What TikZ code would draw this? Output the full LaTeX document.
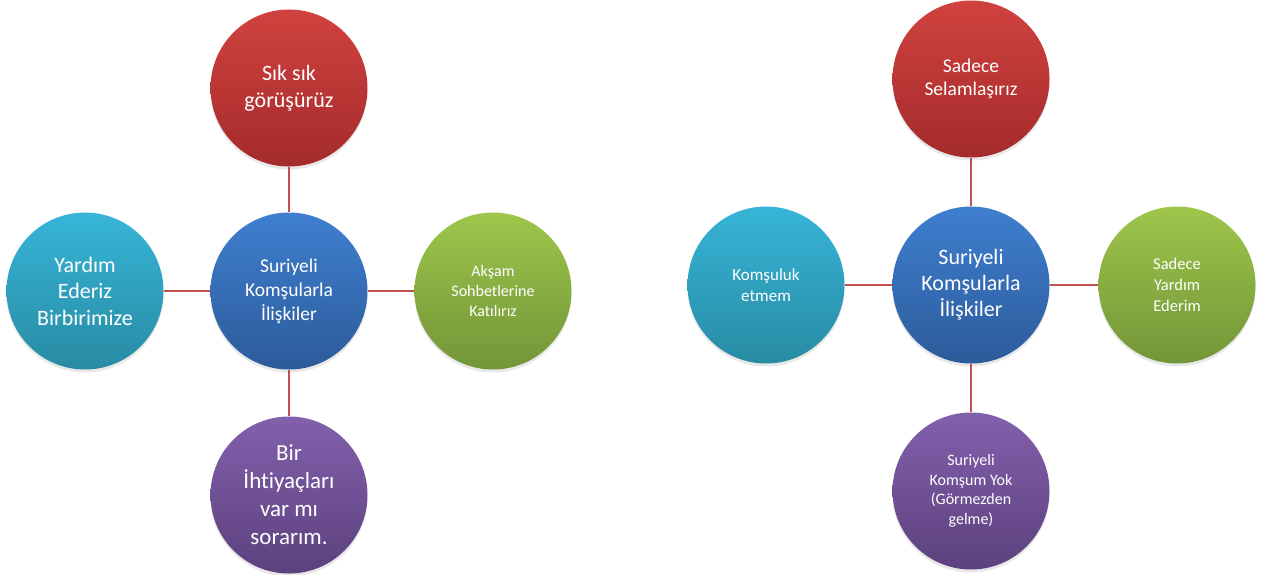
\documentclass[tikz,border=0pt]{standalone}
\usepackage{fontspec}
\setmainfont[Ligatures=NoCommon]{Carlito}
\usetikzlibrary{shadows}
\definecolor{redT}{HTML}{D0423F}
\definecolor{redB}{HTML}{A42B2B}
\definecolor{bluT}{HTML}{3F7FCF}
\definecolor{bluB}{HTML}{2C5B9B}
\definecolor{cyaT}{HTML}{37B5D8}
\definecolor{cyaB}{HTML}{288BA3}
\definecolor{grnT}{HTML}{9EC64B}
\definecolor{grnB}{HTML}{729538}
\definecolor{purT}{HTML}{8260AC}
\definecolor{purB}{HTML}{5D417E}
\definecolor{lineC}{HTML}{C0504D}
\tikzset{
  bub/.style={circle, minimum size=157pt, inner sep=0pt, text=white, align=center,
    shading=axis, shading angle=0,
    drop shadow={opacity=0.18, shadow xshift=0pt, shadow yshift=-3pt}},
  redbub/.style={bub, top color=redT, bottom color=redB},
  blubub/.style={bub, top color=bluT, bottom color=bluB},
  cyabub/.style={bub, top color=cyaT, bottom color=cyaB},
  grnbub/.style={bub, top color=grnT, bottom color=grnB},
  purbub/.style={bub, top color=purT, bottom color=purB},
  conn/.style={draw=lineC, line width=1.3pt},
  fsz/.style 2 args={font=\fontsize{#1}{#2}\selectfont},
}
\begin{document}
\begin{tikzpicture}[x=1pt,y=-1pt]
\useasboundingbox (0,0) rectangle (1268,575);
% left diagram
\node[redbub, fsz={22}{27}] (Lt) at (289,88) {Sık sık\\görüşürüz};
\node[blubub, fsz={19.5}{24}] (Lm) at (289,291) {Suriyeli\\Komşularla\\İlişkiler};
\node[cyabub, fsz={22}{26.5}] (Ll) at (85,291) {Yardım\\Ederiz\\Birbirimize};
\node[grnbub, fsz={16}{20}] (Lr) at (493,291) {Akşam\\Sohbetlerine\\Katılırız};
\node[purbub, fsz={23}{28}] (Lb) at (289,495) {Bir\\İhtiyaçları\\var mı\\sorarım.};
\draw[conn] (Lt) -- (Lm);
\draw[conn] (Lm) -- (Lb);
\draw[conn] (Ll) -- (Lm);
\draw[conn] (Lm) -- (Lr);
% right diagram
\node[redbub, fsz={19.5}{23.5}] (Rt) at (971,79) {Sadece\\Selamlaşırız};
\node[blubub, fsz={22}{26}] (Rm) at (971,285) {Suriyeli\\Komşularla\\İlişkiler};
\node[cyabub, fsz={17}{21}] (Rl) at (766,285) {Komşuluk\\etmem};
\node[grnbub, fsz={16.5}{21}] (Rr) at (1177,285) {Sadece\\Yardım\\Ederim};
\node[purbub, fsz={16}{19.5}] (Rb) at (971,491) {Suriyeli\\Komşum Yok\\(Görmezden\\gelme)};
\draw[conn] (Rt) -- (Rm);
\draw[conn] (Rm) -- (Rb);
\draw[conn] (Rl) -- (Rm);
\draw[conn] (Rm) -- (Rr);
\end{tikzpicture}
\end{document}
